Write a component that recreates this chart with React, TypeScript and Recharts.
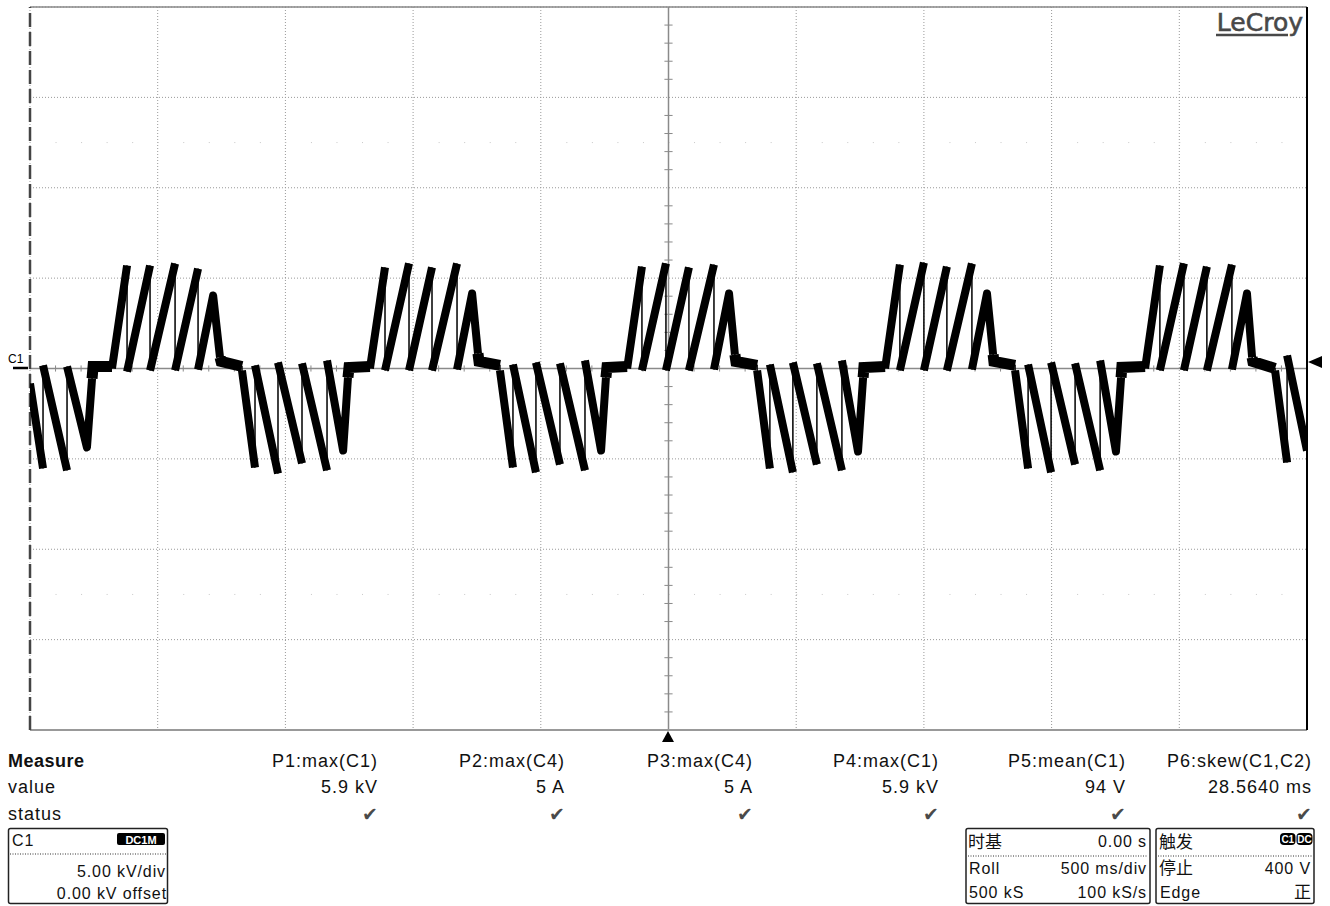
import { LineChart, Line, XAxis, YAxis, CartesianGrid, ReferenceLine } from 'recharts'

type Pt = [number, number]

// C1 trace, [time in s, kV], 500 ms/div, 5 kV/div
const lead: Pt[] = [
  [-2.5, -0.83], [-2.449, -5.53], [-2.449, 0.17], [-2.355, -5.64], [-2.355, 0.11],
  [-2.277, -4.37], [-2.257, -0.55], [-2.253, 0.11], [-2.179, 0.11],
]
const cycle1: Pt[] = [
  [-2.179, 0], [-2.12, 5.7], [-2.12, -0.17], [-2.03, 5.7], [-2.03, -0.11], [-1.932, 5.81], [-1.932, -0.11],
  [-1.842, 5.53], [-1.842, -0.06], [-1.783, 4.04], [-1.756, 0.61], [-1.752, 0.39], [-1.67, 0.11],
  [-1.67, -0.11], [-1.619, -5.48], [-1.619, 0.17], [-1.529, -5.81], [-1.529, 0.33], [-1.435, -5.25],
  [-1.435, 0.28], [-1.337, -5.64], [-1.337, 0.44], [-1.274, -4.54], [-1.255, -0.5], [-1.251, 0.06], [-1.169, 0.11],
]
const cycle2: Pt[] = [
  [-1.169, 0], [-1.11, 5.59], [-1.11, -0.11], [-1.016, 5.81], [-1.016, -0.11], [-0.926, 5.59], [-0.926, -0.11],
  [-0.828, 5.81], [-0.828, -0.06], [-0.769, 4.15], [-0.746, 0.83], [-0.742, 0.39], [-0.66, 0.17],
  [-0.66, -0.11], [-0.609, -5.48], [-0.609, 0.22], [-0.519, -5.75], [-0.519, 0.33], [-0.425, -5.31],
  [-0.425, 0.28], [-0.327, -5.64], [-0.327, 0.44], [-0.264, -4.54], [-0.245, -0.5], [-0.241, 0.06], [-0.162, 0.11],
]
const cycle3: Pt[] = [
  [-0.162, 0], [-0.104, 5.64], [-0.104, -0.11], [-0.01, 5.81], [-0.01, -0.11], [0.08, 5.59], [0.08, -0.11],
  [0.178, 5.75], [0.178, -0.06], [0.237, 4.15], [0.26, 0.77], [0.264, 0.39], [0.347, 0.17],
  [0.347, -0.11], [0.397, -5.53], [0.397, 0.22], [0.487, -5.75], [0.487, 0.33], [0.581, -5.31],
  [0.581, 0.28], [0.679, -5.64], [0.679, 0.44], [0.742, -4.59], [0.762, -0.5], [0.765, 0.06], [0.848, 0.11],
]
const cycle4: Pt[] = [
  [0.848, 0], [0.906, 5.75], [0.906, -0.11], [1.0, 5.86], [1.0, -0.11], [1.09, 5.64], [1.09, -0.11],
  [1.188, 5.81], [1.188, -0.06], [1.247, 4.15], [1.271, 0.77], [1.274, 0.39], [1.357, 0.17],
  [1.357, -0.11], [1.408, -5.53], [1.408, 0.22], [1.498, -5.75], [1.498, 0.33], [1.592, -5.31],
  [1.592, 0.28], [1.69, -5.64], [1.69, 0.44], [1.752, -4.59], [1.772, -0.5], [1.775, 0.06], [1.866, 0.11],
]
const cycle5: Pt[] = [
  [1.866, 0], [1.924, 5.7], [1.924, -0.11], [2.018, 5.81], [2.018, -0.11], [2.108, 5.64], [2.108, -0.11],
  [2.206, 5.75], [2.206, -0.06], [2.265, 4.15], [2.285, 0.61], [2.288, 0.39], [2.375, 0],
  [2.375, -0.11], [2.422, -5.2], [2.422, 0.72], [2.5, -4.54],
]

const TIME_DIVS = [-2.5, -2, -1.5, -1, -0.5, 0, 0.5, 1, 1.5, 2, 2.5]
const KV_DIVS = [-20, -15, -10, -5, 0, 5, 10, 15, 20]

const MEASURE_NAMES = ['P1:max(C1)', 'P2:max(C4)', 'P3:max(C4)', 'P4:max(C1)', 'P5:mean(C1)', 'P6:skew(C1,C2)']
const MEASURE_VALUES = ['5.9 kV', '5 A', '5 A', '5.9 kV', '94 V', '28.5640 ms']
const COL_RIGHT = [378, 565, 753, 939, 1126, 1312]

const TRACE: Pt[] = [...lead, ...cycle1, ...cycle2, ...cycle3, ...cycle4, ...cycle5]

// full trace as thin line, ramps and flat parts get thicker strokes (the scope's persistence band)
function pick(pts: Pt[], kind: 'ramp' | 'flat') {
  const out: { t: number; v: number | null }[] = []
  let open = false
  for (let i = 0; i < pts.length - 1; i++) {
    const [t0, v0] = pts[i]
    const [t1, v1] = pts[i + 1]
    const k = t1 === t0 ? 'jump' : Math.abs(v1 - v0) >= 1.5 ? 'ramp' : 'flat'
    if (k !== kind) {
      if (open) { out.push({ t: t0, v: null }); open = false }
      continue
    }
    if (!open) out.push({ t: t0, v: v0 })
    out.push({ t: t1, v: v1 })
    open = true
  }
  return out
}

const thinData = TRACE.map(([t, v]) => ({ t, v }))
const rampData = pick(TRACE, 'ramp')
const flatData = pick(TRACE, 'flat')

// minor ticks, 5 per division
const minor = (divs: number[]) => {
  const res: number[] = []
  for (let i = 0; i < divs.length - 1; i++) {
    const step = (divs[i + 1] - divs[i]) / 5
    for (let j = 1; j < 5; j++) res.push(divs[i] + step * j)
  }
  return res
}
const minorT = minor(TIME_DIVS)
const minorV = minor(KV_DIVS)

const FONT = '"Liberation Sans", Arial, sans-serif'
const CJK = '"Noto Sans CJK SC", sans-serif'

function Check({ x, y }: { x: number; y: number }) {
  return <text x={x} y={y} textAnchor="end" fontSize={19} fill="#4a4a4a" fontFamily="DejaVu Sans">✔</text>
}

function Overlay() {
  return (
    <svg width={1330} height={906} style={{ position: 'absolute', left: 0, top: 0, pointerEvents: 'none' }}>
      {/* channel marker */}
      <text x={8} y={363} fontSize={12} fontFamily={FONT} fill="#000">C1</text>
      <line x1={13} y1={368} x2={28} y2={368} stroke="#000" strokeWidth={2.5} />
      <polygon points="1308,362 1322,356 1322,368" fill="#000" />
      <polygon points="668,731 662,742 674,742" fill="#000" />

      <text x={1303} y={31} textAnchor="end" fontSize={25} fontFamily="DejaVu Sans" fill="#484848" stroke="#484848" strokeWidth={0.6}>LeCroy</text>
      <line x1={1216} y1={35} x2={1288} y2={35} stroke="#484848" strokeWidth={2.5} />

      <g fontFamily={FONT} fontSize={18} fill="#111" letterSpacing={1}>
        <text x={8} y={767} fontWeight="bold" letterSpacing={0.5}>Measure</text>
        <text x={8} y={793}>value</text>
        <text x={8} y={820}>status</text>
        {MEASURE_NAMES.map((n, i) => (
          <text key={n + i} x={COL_RIGHT[i]} y={767} textAnchor="end">{n}</text>
        ))}
        {MEASURE_VALUES.map((v, i) => (
          <text key={v + i} x={COL_RIGHT[i]} y={793} textAnchor="end">{v}</text>
        ))}
      </g>
      {COL_RIGHT.map((x, i) => <Check key={i} x={x} y={821} />)}

      <g fontFamily={FONT} fontSize={16} fill="#111" letterSpacing={0.9}>
        {/* C1 box */}
        <rect x={8.5} y={828.5} width={159} height={75} fill="none" stroke="#222" strokeWidth={1.5} rx={2} />
        <text x={12} y={846}>C1</text>
        <rect x={117} y={833} width={48} height={12} rx={2} fill="#000" />
        <text x={141} y={843.5} textAnchor="middle" fill="#fff" fontSize={11} fontWeight="bold" letterSpacing={0}>DC1M</text>
        <line x1={10} y1={854} x2={166} y2={854} stroke="#333" strokeDasharray="1 1.5" />
        <text x={166} y={877} textAnchor="end">5.00 kV/div</text>
        <text x={167} y={899} textAnchor="end">0.00 kV offset</text>

        {/* timebase */}
        <rect x={966} y={828.5} width={184} height={75} fill="none" stroke="#222" strokeWidth={1.5} rx={2} />
        <text x={968} y={848} fontFamily={CJK} fontSize={17} letterSpacing={0}>时基</text>
        <text x={1147} y={847} textAnchor="end">0.00 s</text>
        <line x1={968} y1={856} x2={1148} y2={856} stroke="#333" strokeDasharray="1 1.5" />
        <text x={969} y={874}>Roll</text>
        <text x={1147} y={874} textAnchor="end">500 ms/div</text>
        <text x={969} y={898}>500 kS</text>
        <text x={1147} y={898} textAnchor="end">100 kS/s</text>

        {/* trigger */}
        <rect x={1156} y={828.5} width={158} height={75} fill="none" stroke="#222" strokeWidth={1.5} rx={2} />
        <text x={1159} y={848} fontFamily={CJK} fontSize={17} letterSpacing={0}>触发</text>
        <rect x={1280} y={833} width={15.5} height={12} rx={4} fill="#000" />
        <rect x={1296.5} y={833} width={16} height={12} rx={4} fill="#000" />
        <text x={1287.8} y={843} textAnchor="middle" fill="#fff" fontSize={10} fontWeight="bold" letterSpacing={0}>C1</text>
        <text x={1304.5} y={843} textAnchor="middle" fill="#fff" fontSize={10} fontWeight="bold" letterSpacing={0}>DC</text>
        <line x1={1158} y1={856} x2={1312} y2={856} stroke="#333" strokeDasharray="1 1.5" />
        <text x={1159} y={874} fontFamily={CJK} fontSize={17} letterSpacing={0}>停止</text>
        <text x={1311} y={874} textAnchor="end">400 V</text>
        <text x={1160} y={898}>Edge</text>
        <text x={1311} y={898} textAnchor="end" fontFamily={CJK} fontSize={17} letterSpacing={0}>正</text>
      </g>
    </svg>
  )
}

export default function App() {
  return (
    <div style={{ position: 'absolute', left: 0, top: 0, width: 1330, height: 906, background: '#fff' }}>
      <LineChart width={1330} height={740} margin={{ top: 7, right: 23, bottom: 10, left: 30 }}>
        <XAxis dataKey="t" type="number" domain={[-2.5, 2.5]} ticks={TIME_DIVS} allowDataOverflow hide />
        <YAxis type="number" domain={[-20, 20]} ticks={KV_DIVS} allowDataOverflow hide />
        <CartesianGrid stroke="#999" strokeDasharray="1 2" />
        <ReferenceLine y={12.5} stroke="#c8c8c8" strokeDasharray="1 24.54" />
        <ReferenceLine y={-12.5} stroke="#c8c8c8" strokeDasharray="1 24.54" />
        <ReferenceLine x={0} stroke="#8a8a8a" strokeWidth={1.5} />
        <ReferenceLine y={0} stroke="#8a8a8a" strokeWidth={1.5} />
        {minorT.map((t) => (
          <ReferenceLine key={'mt' + t} segment={[{ x: t, y: -0.17 }, { x: t, y: 0.17 }]} stroke="#8a8a8a" />
        ))}
        {minorV.map((v) => (
          <ReferenceLine key={'mv' + v} segment={[{ x: -0.016, y: v }, { x: 0.016, y: v }]} stroke="#8a8a8a" />
        ))}
        <ReferenceLine y={20} stroke="#888" strokeWidth={1.5} />
        <ReferenceLine y={-20} stroke="#999" strokeWidth={2} />
        <ReferenceLine x={-2.5} stroke="#444" strokeWidth={2.5} strokeDasharray="14 5" />
        <ReferenceLine x={2.5} stroke="#000" strokeWidth={2} />
        <Line data={flatData} dataKey="v" type="linear" stroke="#000" strokeWidth={11} dot={false} activeDot={false} isAnimationActive={false} />
        <Line data={rampData} dataKey="v" type="linear" stroke="#000" strokeWidth={8} strokeLinejoin="round" dot={false} activeDot={false} isAnimationActive={false} />
        <Line data={thinData} dataKey="v" type="linear" stroke="#000" strokeWidth={1.5} dot={false} activeDot={false} isAnimationActive={false} />
      </LineChart>
      <Overlay />
    </div>
  )
}
